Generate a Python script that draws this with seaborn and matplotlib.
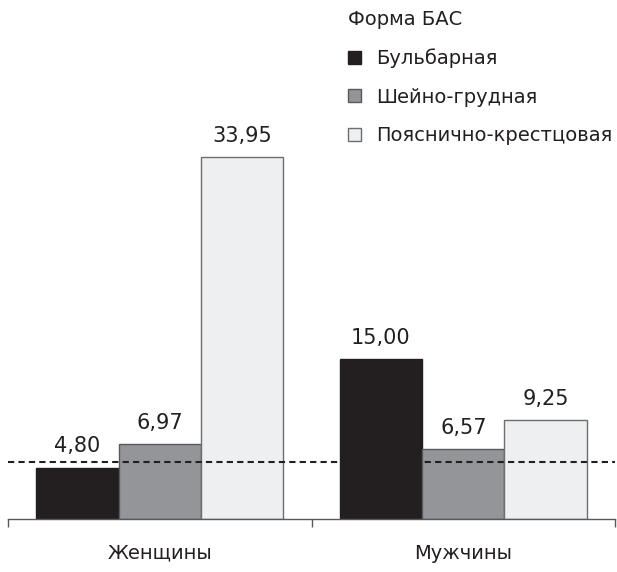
import matplotlib
matplotlib.use("Agg")
import matplotlib.pyplot as plt
import seaborn as sns
import pandas as pd

sexes = ["Женщины", "Мужчины"]
forms = ["Бульбарная", "Шейно-грудная", "Пояснично-крестцовая"]
bulbar = [4.80, 15.00]
cervical = [6.97, 6.57]
lumbar = [33.95, 9.25]
reference_level = 5.3
legend_title = "Форма БАС"
colors = ["#231f20", "#939598", "#eeeff0"]
edge_colors = ["#231f20", "#58595b", "#6d6e71"]

df = pd.DataFrame({
    "sex": sexes * 3,
    "form": [forms[0]] * 2 + [forms[1]] * 2 + [forms[2]] * 2,
    "value": bulbar + cervical + lumbar,
})

sns.set_theme(style="white")
plt.rcParams["font.family"] = ["DejaVu Sans"]
fs = 14

fig = plt.figure(figsize=(6.17, 5.72), dpi=100)
ax = fig.add_axes([0.013, 0.0932, 0.9838, 0.7454])

sns.barplot(data=df, x="sex", y="value", hue="form", order=sexes, hue_order=forms,
            palette=colors, width=0.814, gap=0, saturation=1, legend=True, ax=ax)

for cont, ec in zip(ax.containers, edge_colors):
    for p in cont:
        p.set_edgecolor(ec)
        p.set_linewidth(1.0)
    labels = [f"{v:.2f}".replace(".", ",") for v in cont.datavalues]
    ax.bar_label(cont, labels=labels, padding=8, fontsize=15, color="#231f20")

ax.axhline(reference_level, color="#231f20", linestyle=(0, (3, 2)), lw=1.5, zorder=5)

ax.set_xlim(-0.5, 1.5)
ax.set_ylim(0, 40)
ax.set_xlabel("")
ax.set_ylabel("")
ax.set_yticks([])
for s in ["left", "top", "right"]:
    ax.spines[s].set_visible(False)
ax.spines["bottom"].set_color("#58595b")
ax.spines["bottom"].set_linewidth(1.0)

ax.set_xticks([-0.5, 0.5, 1.5])
ax.set_xticklabels([])
ax.tick_params(axis="x", which="major", direction="out", length=6, width=1,
               color="#58595b", bottom=True)
ax.set_xticks([0, 1], minor=True)
ax.set_xticklabels(sexes, minor=True, fontsize=fs, color="#231f20")
ax.tick_params(axis="x", which="minor", length=0, pad=18)

handles, labels = ax.get_legend_handles_labels()
ax.get_legend().remove()
leg = fig.legend(handles, labels, title=legend_title, loc="upper left",
                 bbox_to_anchor=(348 / 617, 1 - 10 / 572), frameon=False,
                 fontsize=fs, title_fontsize=fs, alignment="left",
                 handlelength=0.68, handleheight=0.68, handletextpad=0.75,
                 labelspacing=1.0, borderpad=0, borderaxespad=0)
for h, ec in zip(leg.legend_handles, edge_colors):
    h.set_edgecolor(ec)
    h.set_linewidth(1.0)
for t in leg.get_texts():
    t.set_color("#231f20")
leg.get_title().set_color("#231f20")

fig.savefig("out.png", dpi=100)
